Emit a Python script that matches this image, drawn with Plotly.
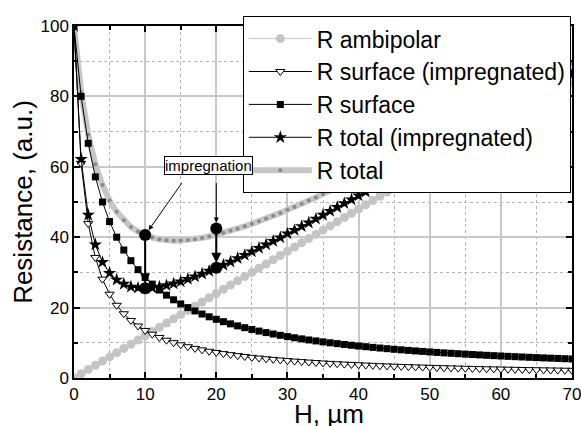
import plotly.graph_objects as go

H = list(range(0, 71))

r_ambipolar = [0.0, 1.2, 2.4, 3.6, 4.8, 6.0, 7.2, 8.4, 9.6, 10.8, 12.0, 13.2, 14.4, 15.6, 16.8, 18.0,
               19.2, 20.4, 21.6, 22.8, 24.0, 25.2, 26.4, 27.6, 28.8, 30.0, 31.2, 32.4, 33.6, 34.8, 36.0,
               37.2, 38.4, 39.6, 40.8, 42.0, 43.2, 44.4, 45.6, 46.8, 48.0, 49.2, 50.4, 51.6, 52.8, 54.0,
               55.2, 56.4, 57.6, 58.8, 60.0, 61.2, 62.4, 63.6, 64.8, 66.0, 67.2, 68.4, 69.6, 70.8, 72.0,
               73.2, 74.4, 75.6, 76.8, 78.0, 79.2, 80.4, 81.6, 82.8, 84.0]

r_surface_imp = [100.0, 60.98, 43.86, 34.25, 28.09, 23.81, 20.66, 18.25, 16.34, 14.79, 13.51, 12.44,
                 11.52, 10.73, 10.04, 9.43, 8.89, 8.42, 7.99, 7.6, 7.25, 6.93, 6.63, 6.36, 6.11, 5.88,
                 5.67, 5.47, 5.29, 5.11, 4.95, 4.8, 4.66, 4.52, 4.4, 4.27, 4.16, 4.05, 3.95, 3.85, 3.76,
                 3.67, 3.59, 3.5, 3.43, 3.35, 3.28, 3.22, 3.15, 3.09, 3.03, 2.97, 2.92, 2.87, 2.82, 2.76,
                 2.72, 2.67, 2.62, 2.58, 2.54, 2.5, 2.46, 2.42, 2.38, 2.35, 2.31, 2.28, 2.25, 2.21, 2.18]

r_surface = [100.0, 80.0, 66.67, 57.14, 50.0, 44.44, 40.0, 36.36, 33.33, 30.77, 28.57, 26.67, 25.0,
             23.53, 22.22, 21.05, 20.0, 19.05, 18.18, 17.39, 16.67, 16.0, 15.38, 14.81, 14.29, 13.79,
             13.33, 12.9, 12.5, 12.12, 11.76, 11.43, 11.11, 10.81, 10.53, 10.26, 10.0, 9.76, 9.52, 9.3,
             9.09, 8.89, 8.7, 8.51, 8.33, 8.16, 8.0, 7.84, 7.69, 7.55, 7.41, 7.27, 7.14, 7.02, 6.9, 6.78,
             6.67, 6.56, 6.45, 6.35, 6.25, 6.15, 6.06, 5.97, 5.88, 5.8, 5.71, 5.63, 5.56, 5.48, 5.41]

r_total_imp = [100.0, 62.2, 46.3, 37.9, 32.9, 29.8, 27.9, 26.7, 25.9, 25.6, 25.5, 25.6, 25.9, 26.3,
               26.8, 27.4, 28.1, 28.8, 29.6, 30.4, 31.3, 32.1, 33.0, 34.0, 34.9, 35.9, 36.9, 37.9, 38.9,
               39.9, 41.0, 42.0, 43.1, 44.1, 45.2, 46.3, 47.4, 48.5, 49.6, 50.7, 51.8, 52.9, 54.0, 55.1,
               56.2, 57.4, 58.5, 59.6, 60.8, 61.9, 63.0, 64.2, 65.3, 66.5, 67.6, 68.8, 69.9, 71.1, 72.2,
               73.4, 74.5, 75.7, 76.9, 78.0, 79.2, 80.4, 81.5, 82.7, 83.9, 85.0, 86.2]

r_total = [100.0, 81.2, 69.1, 60.7, 54.8, 50.4, 47.2, 44.8, 42.9, 41.6, 40.6, 39.9, 39.4, 39.1, 39.0,
           39.05, 39.2, 39.4, 39.8, 40.2, 40.7, 41.2, 41.8, 42.4, 43.1, 43.8, 44.5, 45.3, 46.1, 46.9,
           47.8, 48.6, 49.5, 50.4, 51.3, 52.3, 53.2, 54.2, 55.1, 56.1, 57.1, 58.1, 59.1, 60.1, 61.1,
           62.2, 63.2, 64.2, 65.3, 66.4, 67.4, 68.5, 69.5, 70.6, 71.7, 72.8, 73.9, 75.0, 76.1, 77.2,
           78.3, 79.4, 80.5, 81.6, 82.7, 83.8, 84.9, 86.0, 87.2, 88.3, 89.4]

impregnation_H = [10, 20]
impregnation_total = [40.6, 42.5]
impregnation_total_imp = [25.5, 31.3]

FONT = "Liberation Sans"

fig = go.Figure()

fig.add_trace(go.Scatter(
    x=H, y=r_total, name="R total", mode="lines+markers", legendrank=5,
    line=dict(color="#c6c6c6", width=6),
    marker=dict(symbol="circle", size=4, color="#8a8a8a")))

fig.add_trace(go.Scatter(
    x=H, y=r_ambipolar, name="R ambipolar", mode="lines+markers", legendrank=1,
    line=dict(color="#c4c4c4", width=1),
    marker=dict(symbol="circle", size=9, color="#c4c4c4")))

fig.add_trace(go.Scatter(
    x=H, y=r_surface_imp, name="R surface (impregnated)", mode="lines+markers", legendrank=2,
    line=dict(color="black", width=1),
    marker=dict(symbol="triangle-down", size=8, color="white", line=dict(color="black", width=1))))

fig.add_trace(go.Scatter(
    x=H, y=r_surface, name="R surface", mode="lines+markers", legendrank=3,
    line=dict(color="black", width=1),
    marker=dict(symbol="square", size=7, color="black")))

fig.add_trace(go.Scatter(
    x=H, y=r_total_imp, name="R total (impregnated)", mode="lines+markers", legendrank=4,
    line=dict(color="black", width=1),
    marker=dict(symbol="star", size=10, color="black")))

fig.add_trace(go.Scatter(
    x=impregnation_H + impregnation_H, y=impregnation_total + impregnation_total_imp,
    mode="markers", showlegend=False, cliponaxis=False,
    marker=dict(symbol="circle", size=12, color="black")))

# vertical arrows total -> total (impregnated)
for h, a, b in zip(impregnation_H, impregnation_total, impregnation_total_imp):
    fig.add_annotation(x=h, y=b, ax=h, ay=a, axref="x", ayref="y", xref="x", yref="y",
                       text="", showarrow=True, arrowhead=2, arrowsize=1, arrowwidth=2,
                       arrowcolor="black", standoff=5)

# label with arrows
fig.add_annotation(x=18.85, y=60.3, xref="x", yref="y", text="impregnation", showarrow=False,
                   font=dict(family=FONT, size=15, color="black"), bgcolor="white",
                   bordercolor="black", borderwidth=1, borderpad=0)
fig.add_annotation(x=impregnation_H[0], y=impregnation_total[0], ax=15.3, ay=55.8,
                   axref="x", ayref="y", xref="x", yref="y", text="", showarrow=True,
                   arrowhead=2, arrowsize=1, arrowwidth=1, arrowcolor="black", standoff=6)
fig.add_annotation(x=impregnation_H[1], y=impregnation_total[1], ax=impregnation_H[1], ay=55.8,
                   axref="x", ayref="y", xref="x", yref="y", text="", showarrow=True,
                   arrowhead=2, arrowsize=1, arrowwidth=1, arrowcolor="black", standoff=6)

# x axis title
fig.add_annotation(x=0.512, y=-0.053, xref="paper", yref="paper", xanchor="center", yanchor="top",
                   text="H, µm", showarrow=False, font=dict(family=FONT, size=26, color="black"))

axis_common = dict(
    showline=True, linecolor="black", linewidth=1.5, mirror="allticks",
    ticks="inside", ticklen=6, tickwidth=1.5, tickcolor="black",
    showgrid=True, gridcolor="#c8c8c8", gridwidth=1.5, zeroline=False, automargin=False,
    ticklabeloverflow="allow",
    tickfont=dict(family=FONT, size=17, color="black"),
)

fig.update_xaxes(
    range=[0, 70], dtick=10, tick0=0, ticklabelstandoff=0,
    minor=dict(dtick=5, ticks="inside", ticklen=4, tickcolor="black", showgrid=True,
               gridcolor="#b4b4b4", griddash="dot", gridwidth=1),
    **axis_common)

fig.update_yaxes(
    range=[0, 100], dtick=20, tick0=0,
    minor=dict(dtick=10, ticks="inside", ticklen=4, tickcolor="black", showgrid=True,
               gridcolor="#b4b4b4", griddash="dot", gridwidth=1),
    title=dict(text="Resistance, (a.u.)", font=dict(family=FONT, size=26, color="black"), standoff=0),
    **axis_common)

fig.update_layout(
    width=581, height=426,
    margin=dict(l=74, r=9, t=26, b=48),
    paper_bgcolor="white", plot_bgcolor="white",
    font=dict(family=FONT, color="black"),
    legend=dict(x=0.339, y=1.028, xanchor="left", yanchor="top", bgcolor="white",
                bordercolor="black", borderwidth=1, font=dict(family=FONT, size=23, color="black"),
                itemwidth=63, tracegroupgap=0),
)

fig.write_html("out.html")
